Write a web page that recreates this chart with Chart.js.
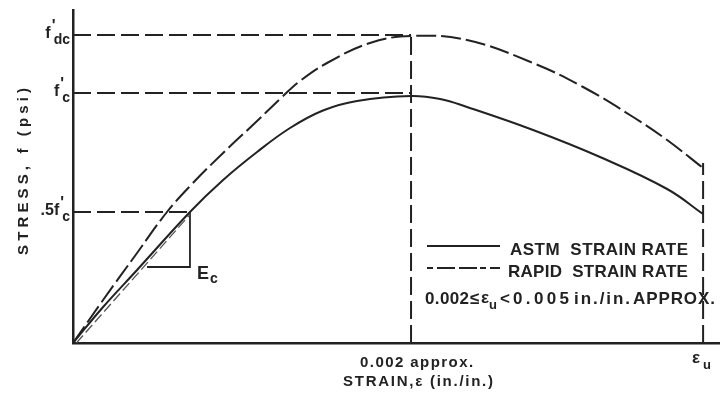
<!DOCTYPE html>
<html>
<head>
<meta charset="utf-8">
<script src="https://cdn.jsdelivr.net/npm/chart.js@4"></script>
<style>
  html, body { margin: 0; padding: 0; background: #fff; }
  #wrap { width: 720px; height: 394px; }
</style>
</head>
<body>
<div id="wrap"><canvas id="stress-chart" width="720" height="394"></canvas></div>
<script>
// strain in units of 0.001 in./in., stress as a fraction of f'c
const strainAstm = [0, 0.178, 0.379, 0.692, 0.888, 1.089, 1.284, 1.479, 1.680, 2.0, 2.172, 2.331, 2.722, 3.118, 3.515, 3.728];
const stressAstm = [0, 0.144, 0.292, 0.524, 0.652, 0.764, 0.860, 0.930, 0.968, 0.988, 0.976, 0.944, 0.852, 0.744, 0.616, 0.516];

const strainRapid = [0, 0.178, 0.379, 0.556, 0.704, 0.888, 1.089, 1.237, 1.343, 1.503, 1.757, 2.0, 2.331, 2.722, 3.018, 3.314, 3.515, 3.728];
const stressRapid = [0, 0.172, 0.360, 0.524, 0.636, 0.760, 0.888, 0.984, 1.048, 1.120, 1.200, 1.228, 1.212, 1.120, 1.024, 0.904, 0.812, 0.700];

const strainPeak = 2.0;        // "0.002 approx."
const strainUltimate = 3.728;  // eps_u
const stressTicks = [0.524, 1.0, 1.232];            // .5f'c, f'c, f'dc
const stressTickLabels = [['.5f', 'c'], ['f', 'c'], ['f', 'dc']];

// secant modulus triangle (E_c)
const ecStrain = [0.438, 0.692, 0.692];
const ecStress = [0.304, 0.304, 0.524];

const ink = '#222';
const font = "'Liberation Sans', Arial, sans-serif";

function toPoints(xs, ys) {
    return xs.map((x, i) => ({ x: x, y: ys[i] }));
}

function refLine(points) {
    return {
        data: points,
        borderColor: ink,
        borderWidth: 2,
        borderDash: [18, 6],
        showLine: true,
        pointRadius: 0,
        tension: 0
    };
}

// draw text with letter spacing so it spans the given width
function fitText(ctx, text, x, y, width) {
    ctx.letterSpacing = '0px';
    const natural = ctx.measureText(text).width;
    const gap = (width - natural) / Math.max(1, text.length - 1);
    ctx.letterSpacing = gap.toFixed(2) + 'px';
    ctx.fillText(text, x, y);
    ctx.letterSpacing = '0px';
}

// f' with a subscript, right aligned at x
function drawSymbol(ctx, main, sub, xRight, yLine) {
    ctx.textAlign = 'left';
    ctx.font = 'bold 16px ' + font;
    const wMain = ctx.measureText(main).width;
    ctx.font = 'bold 14px ' + font;
    const wSub = ctx.measureText(sub).width;
    const x0 = xRight - wSub - wMain - 3;
    ctx.font = 'bold 16px ' + font;
    ctx.fillText(main, x0, yLine + 3);
    ctx.fillText("'", x0 + wMain + 1, yLine - 4);
    ctx.font = 'bold 14px ' + font;
    ctx.fillText(sub, x0 + wMain + 3, yLine + 9);
}

const sketchLabels = {
    id: 'sketchLabels',
    afterDraw(chart) {
        const ctx = chart.ctx;
        const xs = chart.scales.x;
        const ys = chart.scales.y;
        ctx.save();
        ctx.fillStyle = ink;
        ctx.textBaseline = 'alphabetic';

        stressTicks.forEach((v, i) => {
            drawSymbol(ctx, stressTickLabels[i][0], stressTickLabels[i][1], 70, ys.getPixelForValue(v));
        });

        // x tick labels
        ctx.font = 'bold 15px ' + font;
        ctx.textAlign = 'left';
        const xp = xs.getPixelForValue(strainPeak);
        fitText(ctx, '0.002 approx.', xp - 51, 367, 113);
        const xu = xs.getPixelForValue(strainUltimate);
        ctx.font = 'bold 17px ' + font;
        ctx.fillText('\u03b5', xu - 11, 363);
        ctx.font = 'bold 13px ' + font;
        ctx.fillText('u', xu, 369);

        // axis titles
        ctx.font = 'bold 15px ' + font;
        fitText(ctx, 'STRAIN,\u03b5 (in./in.)', 343, 386, 150);
        ctx.save();
        ctx.translate(28, 255);
        ctx.rotate(-Math.PI / 2);
        fitText(ctx, 'STRESS, f (psi)', 0, 0, 167);
        ctx.restore();

        // E_c label
        const ex = xs.getPixelForValue(ecStrain[1]);
        const ey = ys.getPixelForValue(ecStress[0]);
        ctx.font = 'bold 18px ' + font;
        ctx.fillText('E', ex + 7, ey + 12);
        ctx.font = 'bold 14px ' + font;
        ctx.fillText('c', ex + 20, ey + 16);

        // legend
        ctx.strokeStyle = ink;
        ctx.lineWidth = 2;
        ctx.beginPath();
        ctx.moveTo(427, 246);
        ctx.lineTo(500, 246);
        ctx.stroke();
        ctx.setLineDash([6, 4, 18, 4, 18, 3]);
        ctx.beginPath();
        ctx.moveTo(427, 268);
        ctx.lineTo(500, 268);
        ctx.stroke();
        ctx.setLineDash([]);

        ctx.font = 'bold 17px ' + font;
        fitText(ctx, 'ASTM  STRAIN RATE', 510, 255, 178);
        fitText(ctx, 'RAPID  STRAIN RATE', 508, 277, 180);
        fitText(ctx, '0.002', 425, 304, 44);
        ctx.fillText('\u2264', 470, 304);
        ctx.fillText('\u03b5', 481, 303);
        ctx.font = 'bold 13px ' + font;
        ctx.fillText('u', 489, 309);
        ctx.font = 'bold 17px ' + font;
        ctx.fillText('<', 500, 304);
        fitText(ctx, '0.005', 513, 304, 56);
        fitText(ctx, 'in./in.', 574, 304, 56);
        fitText(ctx, 'APPROX.', 633, 304, 82);

        ctx.restore();
    }
};

new Chart(document.getElementById('stress-chart'), {
    type: 'scatter',
    data: {
        datasets: [
            {
                label: 'ASTM STRAIN RATE',
                data: toPoints(strainAstm, stressAstm),
                borderColor: ink,
                borderWidth: 2,
                showLine: true,
                pointRadius: 0,
                tension: 0.4
            },
            {
                label: 'RAPID STRAIN RATE',
                data: toPoints(strainRapid, stressRapid),
                borderColor: ink,
                borderWidth: 2,
                borderDash: [20, 5],
                showLine: true,
                pointRadius: 0,
                tension: 0.4
            },
            {
                // secant line
                data: [{ x: 0.02, y: 0 }, { x: ecStrain[1], y: ecStress[2] - 0.01 }],
                borderColor: '#555',
                borderWidth: 1.3,
                borderDash: [10, 4],
                showLine: true,
                pointRadius: 0
            },
            {
                data: toPoints(ecStrain, ecStress),
                borderColor: ink,
                borderWidth: 1.8,
                showLine: true,
                pointRadius: 0,
                tension: 0
            },
            refLine([{ x: 0, y: stressTicks[2] }, { x: strainPeak, y: stressTicks[2] }]),
            refLine([{ x: 0, y: stressTicks[1] }, { x: strainPeak, y: stressTicks[1] }]),
            refLine([{ x: 0, y: stressTicks[0] }, { x: ecStrain[1], y: stressTicks[0] }]),
            refLine([{ x: strainPeak, y: 0 }, { x: strainPeak, y: stressTicks[2] }]),
            refLine([{ x: strainUltimate, y: 0 }, { x: strainUltimate, y: 0.72 }])
        ]
    },
    options: {
        responsive: false,
        animation: false,
        events: [],
        devicePixelRatio: 1,
        layout: { padding: { left: 73, top: 10, right: 0, bottom: 51 } },
        plugins: {
            legend: { display: false },
            tooltip: { enabled: false }
        },
        scales: {
            x: {
                type: 'linear',
                min: 0,
                max: 3.828,
                ticks: { display: false },
                grid: { display: false, drawTicks: false },
                border: { display: true, color: ink, width: 2.5 }
            },
            y: {
                type: 'linear',
                min: 0,
                max: 1.332,
                ticks: { display: false },
                grid: { display: false, drawTicks: false },
                border: { display: true, color: ink, width: 2.5 }
            }
        }
    },
    plugins: [sketchLabels]
});
</script>
</body>
</html>
